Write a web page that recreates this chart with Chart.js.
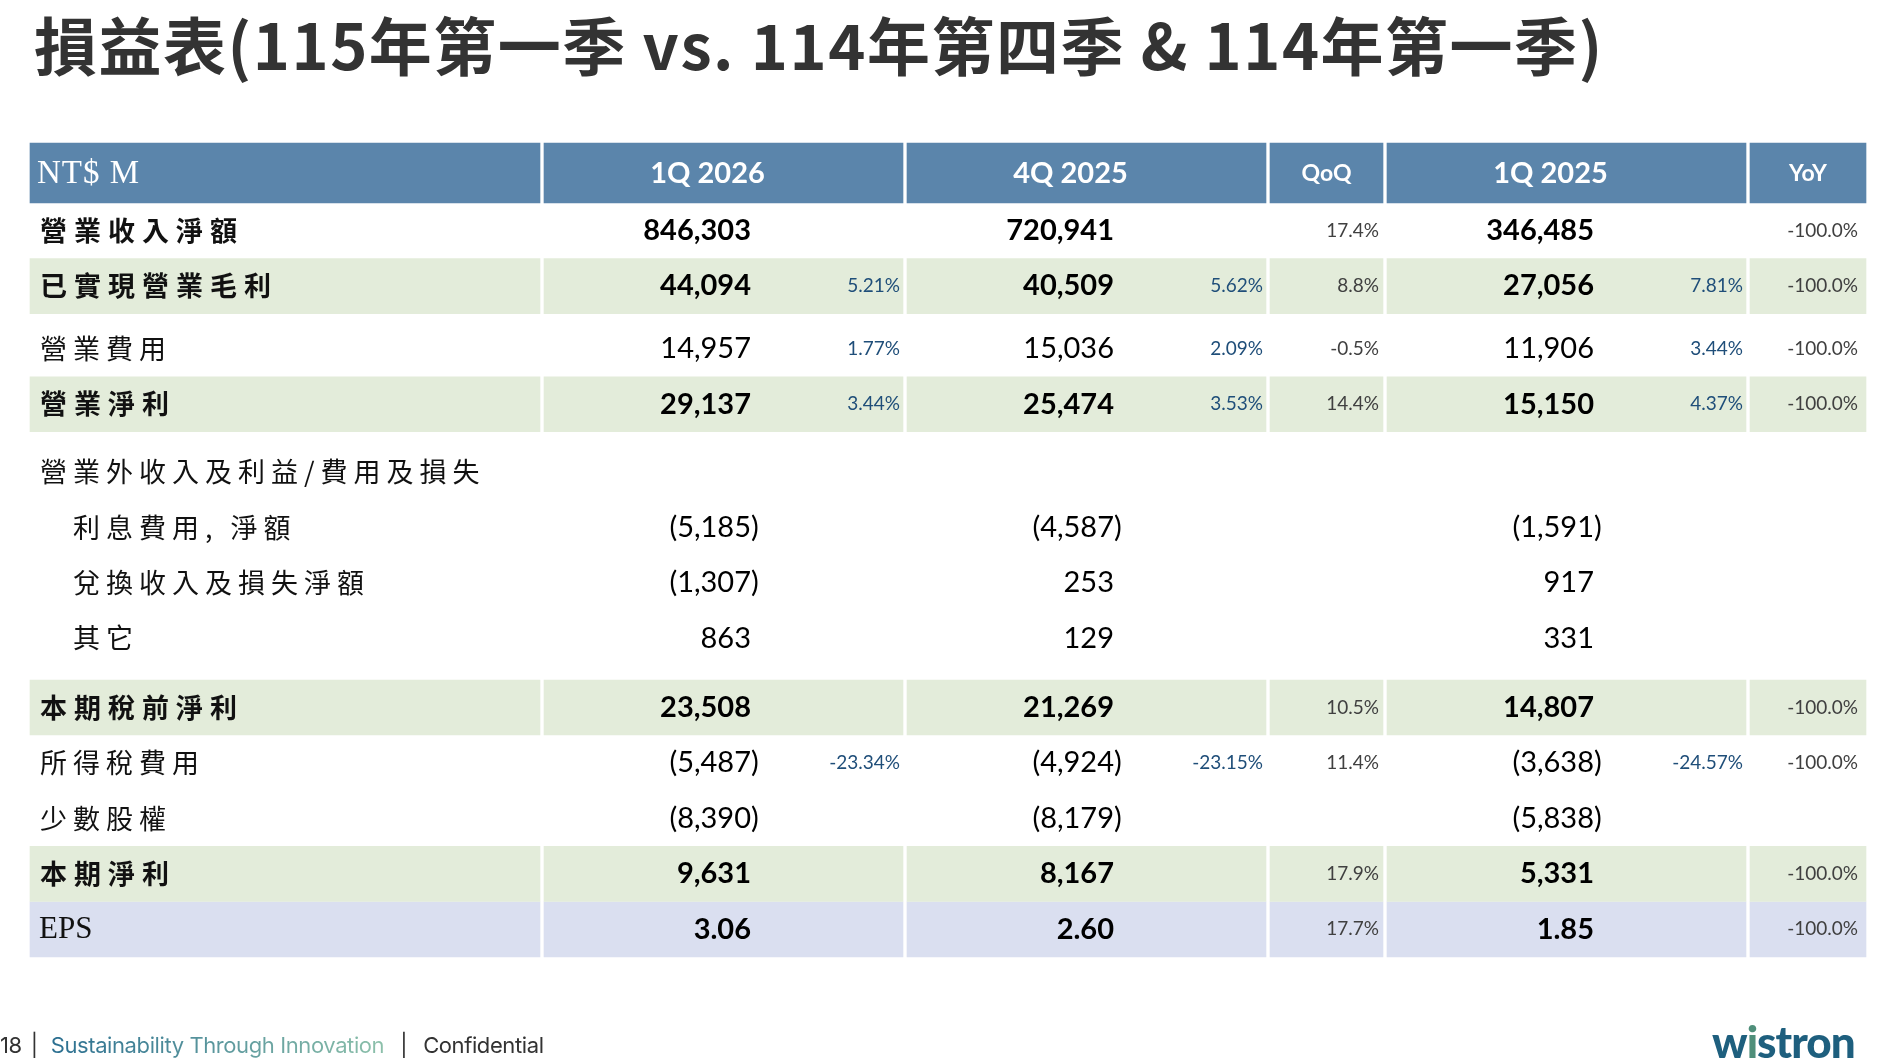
<!DOCTYPE html>
<html>
<head>
<meta charset="utf-8">
<title>損益表</title>
<script src="https://cdn.jsdelivr.net/npm/chart.js@4.4.1/dist/chart.umd.min.js"></script>
<style>
  html, body { margin: 0; padding: 0; background: #fff; }
  #wrap { position: relative; width: 1888px; height: 1060px; overflow: hidden; }
  #table { position: absolute; left: 0; top: 0; }
  .title {
    position: absolute; left: 34px; top: -3px; white-space: nowrap;
    font-family: "Noto Sans CJK TC", sans-serif; font-weight: 700; font-size: 63px;
    color: #333; letter-spacing: 1.5px;
  }
  .footer {
    position: absolute; left: 0; top: 1032px; white-space: nowrap;
    font-family: Inter, sans-serif; font-size: 22px; color: #333; letter-spacing: -0.4px;
  }
  .footer .sep { margin: 0 13px 0 9px; }
  .footer .sep2 { margin: 0 16px 0 16px; }
  .footer .tag {
    background: linear-gradient(90deg, #2a6e90, #8cc0aa);
    -webkit-background-clip: text; background-clip: text; color: transparent;
  }
  .logo {
    position: absolute; left: 1712px; top: 1015px; white-space: nowrap;
    font-family: Lato, sans-serif; font-weight: 900; font-size: 44px; color: #1e5f7e;
    letter-spacing: -1px;
  }
  .logo .i { color: #4f8f7a; }
</style>
</head>
<body>
<div id="wrap">
  <canvas id="table" width="1888" height="1060"></canvas>
  <div class="title">損益表(115年第一季 vs. 114年第四季 &amp; 114年第一季)</div>
  <div class="footer">18<span class="sep">|</span><span class="tag">Sustainability Through Innovation</span><span class="sep2">|</span>Confidential</div>
  <div class="logo">w<span class="i">i</span>stron</div>
</div>
<script>
// column headers
const headers = ["NT$ M", "1Q 2026", "4Q 2025", "QoQ", "1Q 2025", "YoY"];

// row labels
const rowLabels = [
  "營業收入淨額",
  "已實現營業毛利",
  "營業費用",
  "營業淨利",
  "營業外收入及利益/費用及損失",
  "利息費用, 淨額",
  "兌換收入及損失淨額",
  "其它",
  "本期稅前淨利",
  "所得稅費用",
  "少數股權",
  "本期淨利",
  "EPS",
];

// NT$ M (EPS in NT$)
const q1_2026 = [846303, 44094, 14957, 29137, null, -5185, -1307, 863, 23508, -5487, -8390, 9631, 3.06];
const q4_2025 = [720941, 40509, 15036, 25474, null, -4587, 253, 129, 21269, -4924, -8179, 8167, 2.60];
const q1_2025 = [346485, 27056, 11906, 15150, null, -1591, 917, 331, 14807, -3638, -5838, 5331, 1.85];

// % of revenue
const pct_q1_2026 = [null, 5.21, 1.77, 3.44, null, null, null, null, null, -23.34, null, null, null];
const pct_q4_2025 = [null, 5.62, 2.09, 3.53, null, null, null, null, null, -23.15, null, null, null];
const pct_q1_2025 = [null, 7.81, 3.44, 4.37, null, null, null, null, null, -24.57, null, null, null];

const qoq = [17.4, 8.8, -0.5, 14.4, null, null, null, null, 10.5, 11.4, null, 17.9, 17.7];
const yoy = [-100.0, -100.0, -100.0, -100.0, null, null, null, null, -100.0, -100.0, null, -100.0, -100.0];

// ---- layout / style ----
const rowKind = ["plain", "green", "plain", "green", "plain", "sub", "sub", "sub", "green", "plain", "plain", "green", "eps"];
const boldRows = [0, 1, 3, 8, 11];
const rowGap = [0.04, 0, 0.13, 0, 0.22, 0, 0, 0, 0.25, 0, 0, 0, 0]; // extra space before each body row
const tableLeft = 30;
const colWidths = [510, 359, 359, 113, 359, 116];
const colGap = 4;
const rowUnit = 55.45;
const headerCenter = 173;

const cols = [];
let cx = tableLeft;
colWidths.forEach((w) => { cols.push([cx, cx + w]); cx += w + colGap; });

// header at 0, body rows at 1..n
const rowPos = [];
let acc = 0;
rowLabels.forEach((_, i) => { acc += rowGap[i]; rowPos.push(i + 1 + acc); });

const cellsFor = (kind) => {
  const out = [];
  rowKind.forEach((k, r) => {
    if (k === kind) cols.forEach((c) => out.push({ x: c, y: rowPos[r] }));
  });
  return out;
};

const fmt = (v, dec) =>
  Math.abs(v).toLocaleString("en-US", { minimumFractionDigits: dec, maximumFractionDigits: dec });

function drawValue(ctx, v, px, py, dec) {
  const s = fmt(v, dec);
  ctx.textAlign = "right";
  if (v < 0) {
    ctx.fillText("(" + s, px, py);
    ctx.textAlign = "left";
    ctx.fillText(")", px, py);
  } else {
    ctx.fillText(s, px, py);
  }
}

const tableText = {
  id: "tableText",
  afterDatasetsDraw(chart) {
    const ctx = chart.ctx;
    const xs = chart.scales.x, ys = chart.scales.y;
    ctx.save();
    ctx.textBaseline = "middle";

    // header texts
    const hy = ys.getPixelForValue(0);
    ctx.fillStyle = "#ffffff";
    ctx.font = '400 33px "Liberation Serif"';
    ctx.textAlign = "left";
    ctx.letterSpacing = "1px";
    ctx.fillText(headers[0], xs.getPixelForValue(cols[0][0] + 7), hy + 1);
    ctx.letterSpacing = "0px";
    headers.slice(1).forEach((h, j) => {
      const c = cols[j + 1];
      const narrow = c[1] - c[0] < 200;
      ctx.font = narrow ? '700 23px Lato' : '700 29px Lato';
      ctx.textAlign = "center";
      const mid = (c[0] + c[1]) / 2 + (narrow ? 0 : -16);
      ctx.fillText(h, xs.getPixelForValue(mid), hy + 1);
    });

    // body rows
    rowLabels.forEach((label, r) => {
      const py = ys.getPixelForValue(rowPos[r]);
      const bold = boldRows.includes(r);
      ctx.fillStyle = "#111";
      ctx.textAlign = "left";
      if (rowKind[r] === "eps") {
        ctx.font = '400 31px "Liberation Serif"';
        ctx.fillText(label, xs.getPixelForValue(cols[0][0] + 9), py + 1);
      } else {
        ctx.font = (bold ? "700 " : "400 ") + '27px "Noto Sans CJK TC"';
        ctx.letterSpacing = bold ? "7px" : "6px";
        const indent = rowKind[r] === "sub" ? 43 : 10;
        ctx.fillText(label, xs.getPixelForValue(cols[0][0] + indent), py);
        ctx.letterSpacing = "0px";
      }

      const dec = rowKind[r] === "eps" ? 2 : 0;
      const valFont = (bold || rowKind[r] === "eps" ? "700 " : "400 ") + "29px Lato";
      [[q1_2026, pct_q1_2026, 1], [q4_2025, pct_q4_2025, 2], [q1_2025, pct_q1_2025, 4]].forEach(([vals, pcts, ci]) => {
        const c = cols[ci];
        if (vals[r] !== null) {
          ctx.fillStyle = "#000";
          ctx.font = valFont;
          drawValue(ctx, vals[r], xs.getPixelForValue(c[1] - 152), py, dec);
        }
        if (pcts[r] !== null) {
          ctx.fillStyle = "#1f4e79";
          ctx.font = "400 19px Lato";
          ctx.textAlign = "right";
          ctx.fillText(pcts[r].toFixed(2) + "%", xs.getPixelForValue(c[1] - 3), py);
        }
      });
      ctx.fillStyle = "#404040";
      ctx.font = "400 19px Lato";
      ctx.textAlign = "right";
      if (qoq[r] !== null) ctx.fillText(qoq[r].toFixed(1) + "%", xs.getPixelForValue(cols[3][1] - 4), py);
      if (yoy[r] !== null) ctx.fillText(yoy[r].toFixed(1) + "%", xs.getPixelForValue(cols[5][1] - 8), py);
    });
    ctx.restore();
  },
};

const table = document.getElementById("table").getContext("2d");
const myTable = new Chart(table, {
  type: "bar",
  data: {
    datasets: [
      { label: "header", data: headers.map((_, i) => ({ x: cols[i], y: 0 })), backgroundColor: "#5b85ab", barThickness: 60 },
      { label: "highlight", data: cellsFor("green"), backgroundColor: "#e3ecda", barThickness: 55 },
      { label: "eps", data: cellsFor("eps"), backgroundColor: "#dadff0", barThickness: 55 },
    ],
  },
  options: {
    indexAxis: "y",
    responsive: false,
    animation: false,
    events: [],
    devicePixelRatio: 1,
    datasets: { bar: { grouped: false, borderWidth: 0 } },
    layout: { padding: 0 },
    scales: {
      x: { type: "linear", min: 0, max: 1888, offset: false, display: false },
      y: {
        type: "linear",
        reverse: true,
        offset: false,
        min: -headerCenter / rowUnit,
        max: (1060 - headerCenter) / rowUnit,
        display: false,
      },
    },
    plugins: { legend: { display: false }, tooltip: { enabled: false } },
  },
  plugins: [tableText],
});
</script>
</body>
</html>
